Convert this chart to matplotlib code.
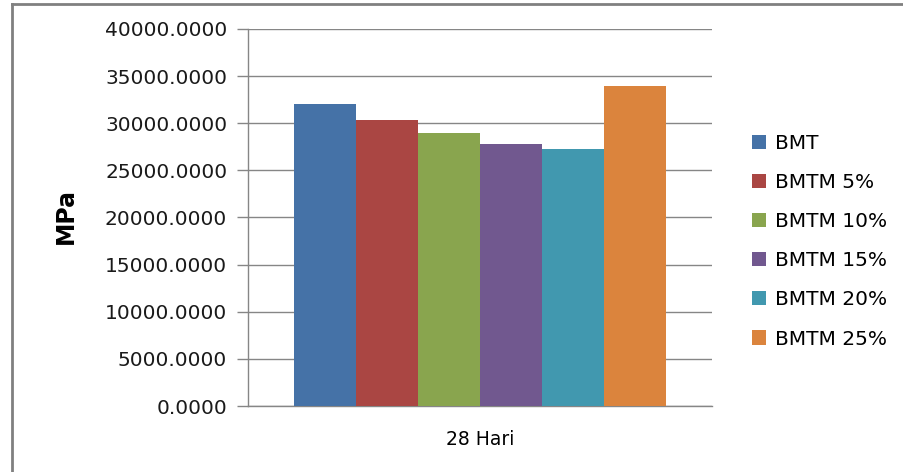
import matplotlib.pyplot as plt
from matplotlib.lines import Line2D
from matplotlib.ticker import FormatStrFormatter
import numpy as np

series = ['BMT', 'BMTM 5%', 'BMTM 10%', 'BMTM 15%', 'BMTM 20%', 'BMTM 25%']
values = [32050, 30300, 28950, 27830, 27270, 33980]
colors = ['#4572A7', '#AA4643', '#89A54E', '#71588F', '#4198AF', '#DB843D']
category = '28 Hari'

fig = plt.figure(figsize=(9.04, 4.72), dpi=100)
ax = fig.add_axes([0.2743, 0.1398, 0.5133, 0.7988])

n = len(series)
group = 0.8
w = group / n
x = np.arange(n) * w - group / 2 + w / 2
for xi, v, c, lab in zip(x, values, colors, series):
    ax.bar(xi, v, width=w, color=c, label=lab, zorder=3)

ax.set_xlim(-0.5, 0.5)
ax.set_ylim(0, 40000)
ax.set_yticks(np.arange(0, 40001, 5000))
ax.yaxis.set_major_formatter(FormatStrFormatter('%.4f'))
ax.set_xticks([0])
ax.set_xticklabels([category])
ax.tick_params(axis='x', length=0, pad=17, labelsize=13.5)
ax.tick_params(axis='y', length=8, width=1, color='#868686', pad=7,
               labelsize=14.5, labelcolor='#1a1a1a')

ax.grid(axis='y', color='#868686', linewidth=1, zorder=0)
for s in ['top', 'right']:
    ax.spines[s].set_visible(False)
for s in ['left', 'bottom']:
    ax.spines[s].set_color('#868686')
    ax.spines[s].set_linewidth(1)

fig.text(0.073, 0.542, 'MPa', rotation=90, fontsize=17, fontweight='bold',
         ha='center', va='center')

fig.legend(loc='center left', bbox_to_anchor=(0.832, 0.489), frameon=False,
           borderaxespad=0, borderpad=0, fontsize=14.5, handlelength=0.7,
           handleheight=0.7, handletextpad=0.45, labelspacing=1.0)

# outer frame, only left and top edges
fig.add_artist(Line2D([0.0133, 0.0133], [0, 0.9915], transform=fig.transFigure,
                      color='#808080', linewidth=2))
fig.add_artist(Line2D([0.0133, 1], [0.9915, 0.9915], transform=fig.transFigure,
                      color='#808080', linewidth=2))

fig.savefig('out.png', dpi=100)
